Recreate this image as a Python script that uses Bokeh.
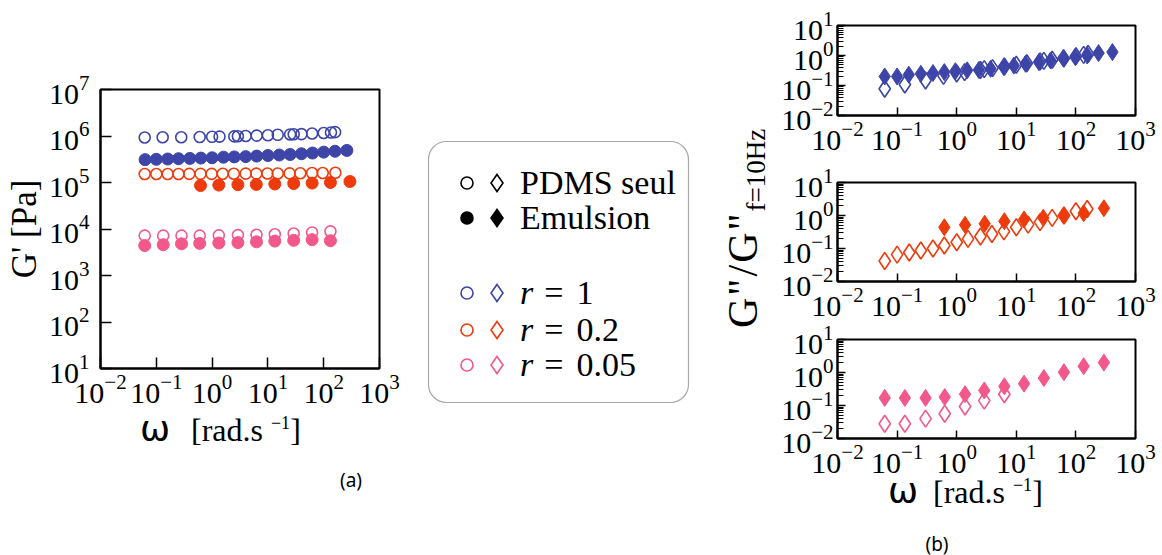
from bokeh.plotting import figure
from bokeh.layouts import row, column
from bokeh.models import Range1d, Div
from bokeh.embed import file_html
from bokeh.resources import INLINE

# ---------------- data : panel (a)  G' [Pa] vs omega ----------------
blue_open_x = [0.062, 0.13, 0.28, 0.6, 1.0, 1.36, 2.5, 2.9, 4.0, 6.3, 10, 15, 25, 29, 40, 62, 100, 135, 160]
blue_open_y = [9.3e5, 9.4e5, 9.4e5, 9.5e5, 9.6e5, 9.7e5, 9.8e5, 9.9e5, 1.0e6, 1.02e6, 1.04e6, 1.06e6,
               1.08e6, 1.09e6, 1.1e6, 1.13e6, 1.16e6, 1.19e6, 1.21e6]
blue_fill_x = [0.063, 0.1, 0.16, 0.25, 0.4, 0.63, 1.0, 1.6, 2.5, 4.0, 6.3, 10, 16, 25, 40, 63, 100, 160, 260]
blue_fill_y = [3.1e5, 3.15e5, 3.2e5, 3.25e5, 3.3e5, 3.35e5, 3.4e5, 3.5e5, 3.55e5, 3.6e5, 3.7e5, 3.8e5,
               3.9e5, 4.0e5, 4.15e5, 4.3e5, 4.5e5, 4.7e5, 4.9e5]
red_open_x = [0.062, 0.1, 0.16, 0.25, 0.39, 0.62, 0.98, 1.55, 2.45, 4.0, 6.2, 9.8, 15, 24.5, 38, 62, 96, 162]
red_open_y = [1.52e5, 1.52e5, 1.52e5, 1.52e5, 1.53e5, 1.53e5, 1.53e5, 1.54e5, 1.54e5, 1.55e5, 1.55e5,
              1.56e5, 1.56e5, 1.57e5, 1.58e5, 1.6e5, 1.6e5, 1.62e5]
red_fill_x = [0.62, 1.32, 2.9, 6.2, 13.3, 29, 62, 132, 295]
red_fill_y = [8.6e4, 8.8e4, 9.0e4, 9.1e4, 9.3e4, 9.5e4, 9.7e4, 1.0e5, 1.05e5]
pink_x = [0.062, 0.133, 0.283, 0.6, 1.32, 2.9, 6.25, 13.3, 29, 62, 132]
pink_open_y = [7.2e3, 7.2e3, 7.2e3, 7.2e3, 7.3e3, 7.4e3, 7.5e3, 7.7e3, 8.0e3, 8.4e3, 8.9e3]
pink_fill_y = [4.4e3, 4.6e3, 4.8e3, 4.9e3, 5.0e3, 5.1e3, 5.3e3, 5.5e3, 5.7e3, 5.9e3, 5.6e3]

# ---------------- data : panel (b)  G''/G''(f=10Hz) vs omega ----------------
b1_fill_x = [0.062, 0.1, 0.157, 0.25, 0.4, 0.62, 0.95, 1.5, 2.35, 3.7, 6.2, 9.1, 14.3, 24, 37.6, 63, 98, 155, 240, 410]
b1_fill_y = [0.20, 0.20, 0.23, 0.245, 0.26, 0.28, 0.30, 0.32, 0.33, 0.36, 0.41, 0.46, 0.53, 0.60, 0.68,
             0.77, 0.88, 1.0, 1.2, 1.3]
b1_open_x = [0.062, 0.135, 0.30, 0.6, 1.0, 1.36, 2.5, 2.9, 4.0, 6.3, 10, 15, 25, 29, 40, 62, 100, 135, 160]
b1_open_y = [0.078, 0.108, 0.147, 0.21, 0.25, 0.28, 0.33, 0.35, 0.38, 0.43, 0.49, 0.55, 0.63, 0.66, 0.72,
             0.82, 0.95, 1.05, 1.12]
r2_open_x = [0.062, 0.1, 0.16, 0.25, 0.4, 0.62, 1.0, 1.55, 2.5, 3.9, 6.2, 10, 15.8, 25, 40, 63, 100, 155]
r2_open_y = [0.042, 0.065, 0.076, 0.087, 0.10, 0.123, 0.155, 0.195, 0.23, 0.275, 0.33, 0.44, 0.53, 0.63,
             0.85, 1.0, 1.35, 1.58]
r2_fill_x = [0.62, 1.38, 2.95, 6.3, 13.5, 28.3, 63, 135, 295]
r2_fill_y = [0.44, 0.52, 0.56, 0.67, 0.76, 0.85, 1.0, 1.18, 1.66]
p3_fill_x = [0.062, 0.135, 0.30, 0.63, 1.38, 2.9, 6.3, 13.5, 29, 63, 135, 295]
p3_fill_y = [0.17, 0.17, 0.17, 0.18, 0.22, 0.285, 0.38, 0.46, 0.68, 1.02, 1.55, 2.0]
p3_open_x = [0.062, 0.135, 0.30, 0.63, 1.38, 2.9, 6.3]
p3_open_y = [0.028, 0.028, 0.04, 0.056, 0.093, 0.14, 0.22]

# ---------------- texts ----------------
legend_kind_labels = ["PDMS seul", "Emulsion"]
legend_ratio_values = ["1", "0.2", "0.05"]
ylabel_a = "G' [Pa]"
ylabel_b_main = 'G"/G"'
ylabel_b_sub = "f=10Hz"
xlabel_omega = "\u03c9"
xlabel_unit = "[rad.s"
xlabel_exp = "\u22121"
panel_tags = ["(a)", "(b)"]

BLUE = "#3d45a8"
RED = "#ee3b0c"
PINK = "#f2588a"
SERIF = "Liberation Serif"
TICK_FS = "30px"


def style(p, tick_len, minor_y=False, ystand=6, xstand=2):
    p.outline_line_color = "black"
    p.outline_line_width = 2
    p.grid.visible = False
    for ax in (p.xaxis[0], p.yaxis[0]):
        ax.axis_line_color = "black"
        ax.axis_line_width = 2
        ax.major_tick_line_color = "black"
        ax.major_tick_line_width = 1.5
        ax.major_tick_in = tick_len
        ax.major_tick_out = 0
        ax.minor_tick_line_color = None
        ax.major_label_text_font = SERIF
        ax.major_label_text_font_size = TICK_FS
        ax.major_label_text_color = "black"
    p.yaxis[0].major_label_standoff = ystand
    p.xaxis[0].major_label_standoff = xstand
    if minor_y:
        ya = p.yaxis[0]
        ya.minor_tick_line_color = "black"
        ya.minor_tick_line_width = 1
        ya.minor_tick_in = 6
        ya.minor_tick_out = 0


def xlabel_html(left_omega, left_unit, baseline):
    # line-height 0: the baseline sits at (ascent-descent)/2 below the box top
    top_o = baseline - 0.346 * 36
    top_u = baseline - 0.3375 * 32
    return (
        f'<div style="position:absolute;left:{left_omega}px;top:{top_o:.1f}px;font-family:\'DejaVu Sans\';'
        f'font-size:36px;line-height:0;color:black;">{xlabel_omega}</div>'
        f'<div style="position:absolute;left:{left_unit}px;top:{top_u:.1f}px;font-family:\'{SERIF}\';'
        f'font-size:32px;line-height:0;white-space:nowrap;color:black;">{xlabel_unit} '
        f'<span style="font-size:18px;position:relative;top:-12px;">{xlabel_exp}</span>]</div>'
    )


def tag_html(left, top, text):
    return (f'<div style="position:absolute;left:{left}px;top:{top}px;width:60px;text-align:center;'
            f'font-family:\'Noto Sans\';font-size:19px;line-height:19px;color:black;">{text}</div>')


# ================= panel (a) =================
PA_H = 89 + 279 + 40
pa = figure(x_axis_type="log", y_axis_type="log", x_range=Range1d(1e-2, 1e3), y_range=Range1d(10, 1e7),
            frame_width=279, frame_height=279, min_border_left=100, min_border_right=41,
            min_border_top=89, min_border_bottom=40, output_backend="svg", toolbar_location=None)
style(pa, 11, ystand=7)
pa.yaxis[0].axis_label = ylabel_a
pa.yaxis[0].axis_label_text_font = SERIF
pa.yaxis[0].axis_label_text_font_size = "35px"
pa.yaxis[0].axis_label_text_font_style = "normal"
pa.yaxis[0].axis_label_text_color = "black"
pa.yaxis[0].axis_label_standoff = 2
pa.scatter(blue_open_x, blue_open_y, marker="circle", size=11, fill_color=None, line_color=BLUE, line_width=1.6)
pa.scatter(red_open_x, red_open_y, marker="circle", size=11, fill_color=None, line_color=RED, line_width=1.6)
pa.scatter(pink_x, pink_open_y, marker="circle", size=11, fill_color=None, line_color=PINK, line_width=1.6)
pa.scatter(blue_fill_x, blue_fill_y, marker="circle", size=12, fill_color=BLUE, line_color=BLUE)
pa.scatter(red_fill_x, red_fill_y, marker="circle", size=12, fill_color=RED, line_color=RED)
pa.scatter(pink_x, pink_fill_y, marker="circle", size=12, fill_color=PINK, line_color=PINK)

DA_H = 555 - PA_H
div_a = Div(text=f'<div style="position:relative;width:420px;height:{DA_H}px;">'
                 + xlabel_html(140, 191, 441 - PA_H) + tag_html(321, 481 - PA_H - 10, panel_tags[0]) + '</div>',
            width=420, height=DA_H, margin=(0, 0, 0, 0))

# ================= legend block + shared y label of panel (b) =================
LW, LH = 353, 555
kind_y = [183, 218]
ratio_y = [293, 330, 365]
cx, dx, tx = 47, 77, 100
R_C, DH, DW = 6, 8.5, 6


def circle_svg(y, color, filled):
    fill = color if filled else "none"
    return f'<circle cx="{cx}" cy="{y}" r="{R_C}" fill="{fill}" stroke="{color}" stroke-width="1.6"/>'


def diamond_svg(y, color, filled):
    fill = color if filled else "none"
    pts = f"{dx},{y - DH} {dx + DW},{y} {dx},{y + DH} {dx - DW},{y}"
    return f'<polygon points="{pts}" fill="{fill}" stroke="{color}" stroke-width="1.6"/>'


svg = [f'<svg width="{LW}" height="{LH}" style="position:absolute;left:0;top:0;">',
       '<rect x="8.5" y="141.5" width="260" height="261" rx="18" ry="18" fill="white" '
       'stroke="#a8a8a8" stroke-width="1.2"/>']
svg += [circle_svg(kind_y[0], "black", False), diamond_svg(kind_y[0], "black", False),
        circle_svg(kind_y[1], "black", True), diamond_svg(kind_y[1], "black", True)]
for yy, col in zip(ratio_y, [BLUE, RED, PINK]):
    svg += [circle_svg(yy, col, False), diamond_svg(yy, col, False)]
svg.append('</svg>')

txt = []
for yy, t in zip(kind_y, legend_kind_labels):
    txt.append(f'<div style="position:absolute;left:{tx}px;top:{yy - 15}px;font-family:\'{SERIF}\';'
               f'font-size:34px;line-height:30px;white-space:nowrap;color:black;">{t}</div>')
for yy, t in zip(ratio_y, legend_ratio_values):
    txt.append(f'<div style="position:absolute;left:{tx}px;top:{yy - 15}px;font-family:\'{SERIF}\';'
               f'font-size:34px;line-height:30px;white-space:nowrap;color:black;">'
               f'<i>r</i><span style="margin-left:11px;">=</span>'
               f'<span style="margin-left:13px;">{t}</span></div>')
# rotated y label for the three (b) panels
txt.append(f'<div style="position:absolute;left:302px;top:328px;transform:rotate(-90deg);transform-origin:left top;'
           f'font-family:\'{SERIF}\';font-size:42px;line-height:42px;white-space:nowrap;letter-spacing:2px;color:black;">'
           f'{ylabel_b_main}<span style="font-size:27px;position:relative;top:8px;letter-spacing:0px;">{ylabel_b_sub}</span></div>')

div_leg = Div(text=f'<div style="position:relative;width:{LW}px;height:{LH}px;">' + "".join(svg) + "".join(txt) + '</div>',
              width=LW, height=LH, margin=(0, 0, 0, 0))


# ================= panel (b) : three stacked plots =================
def bpanel(top, fh, bottom):
    p = figure(x_axis_type="log", y_axis_type="log", x_range=Range1d(1e-2, 1e3), y_range=Range1d(1e-2, 10),
               frame_width=298, frame_height=fh, min_border_left=64, min_border_right=27,
               min_border_top=top, min_border_bottom=bottom, output_backend="svg", toolbar_location=None)
    style(p, 8, minor_y=True, ystand=4, xstand=2)
    return p


p1 = bpanel(25, 90, 42)
p1.scatter(b1_fill_x, b1_fill_y, marker="diamond", size=17, fill_color=BLUE, line_color=BLUE)
p1.scatter(b1_open_x, b1_open_y, marker="diamond", size=17, fill_color=None, line_color=BLUE, line_width=1.6)

p2 = bpanel(25, 99, 40)
p2.scatter(r2_fill_x, r2_fill_y, marker="diamond", size=17, fill_color=RED, line_color=RED)
p2.scatter(r2_open_x, r2_open_y, marker="diamond", size=17, fill_color=None, line_color=RED, line_width=1.6)

p3 = bpanel(18, 99, 40)
p3.scatter(p3_fill_x, p3_fill_y, marker="diamond", size=17, fill_color=PINK, line_color=PINK)
p3.scatter(p3_open_x, p3_open_y, marker="diamond", size=17, fill_color=None, line_color=PINK, line_width=1.6)

COL_H = (25 + 90 + 42) + (25 + 99 + 40) + (18 + 99 + 40)
DB_H = 555 - COL_H
DB_W = 1162 - 420 - LW
div_b = Div(text=f'<div style="position:relative;width:{DB_W}px;height:{DB_H}px;">'
                 + xlabel_html(888 - 420 - LW, 933 - 420 - LW, 503 - COL_H)
                 + tag_html(937 - 420 - LW - 30, 545 - COL_H - 10, panel_tags[1]) + '</div>',
            width=DB_W, height=DB_H, margin=(0, 0, 0, 0))

layout = row(column(pa, div_a), div_leg, column(p1, p2, p3, div_b))
open("out.html", "w").write(file_html(layout, INLINE))
